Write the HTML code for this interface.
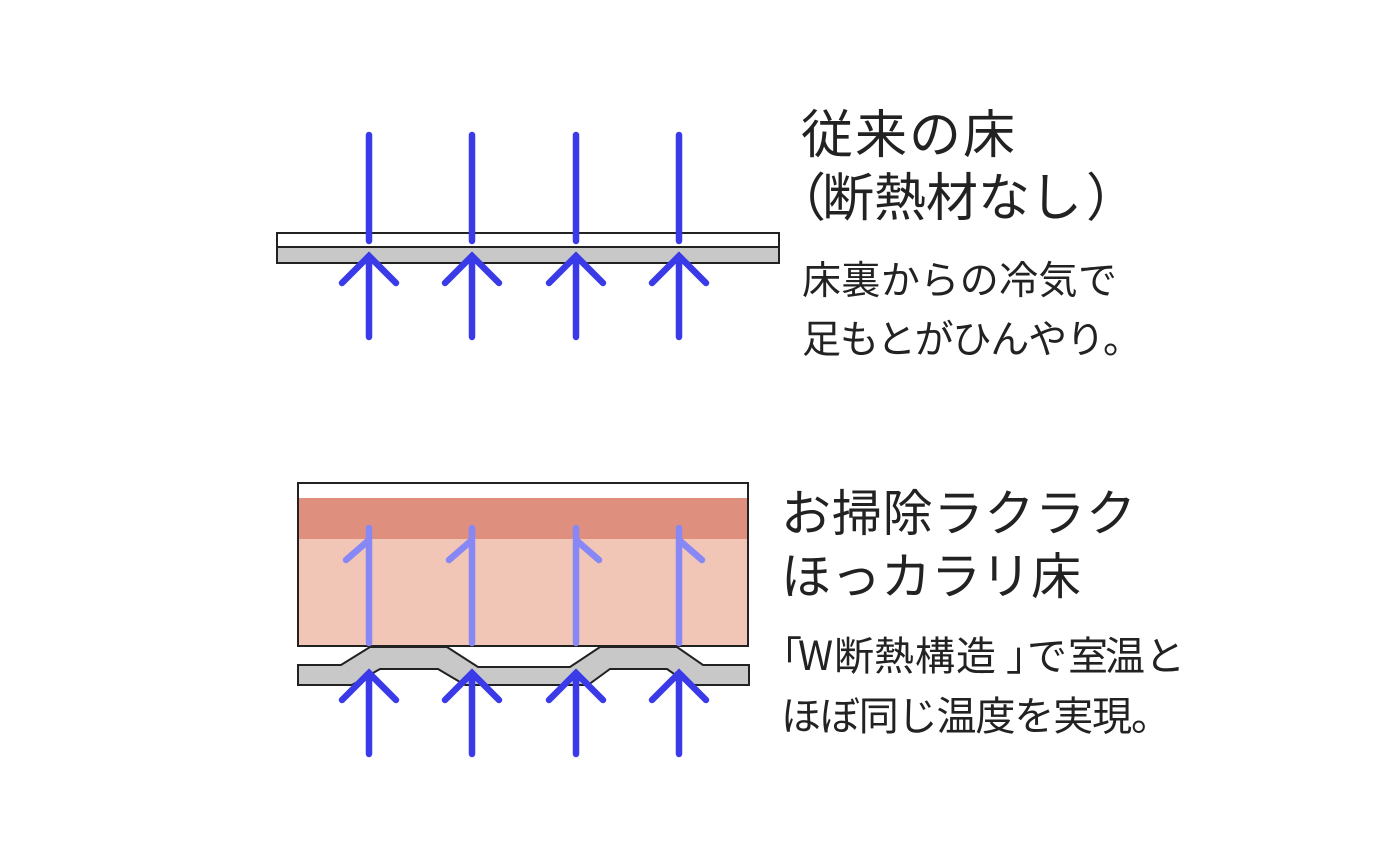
<!DOCTYPE html>
<html><head><meta charset="utf-8"><style>
html,body{margin:0;padding:0;background:#fff;width:1400px;height:865px;overflow:hidden}
text{font-family:"Noto Sans CJK JP","Liberation Sans",sans-serif;fill:#222}
</style></head><body>
<svg width="1400" height="865" viewBox="0 0 1400 865" xmlns="http://www.w3.org/2000/svg">
<rect x="277" y="233" width="502" height="14" fill="#fff" stroke="#222" stroke-width="2"/>
<rect x="277" y="247" width="502" height="16" fill="#c8c8c8" stroke="#222" stroke-width="2"/>
<g stroke="#3a3ae8" stroke-width="6.5" stroke-linecap="round" fill="none">
<line x1="369" y1="135" x2="369" y2="241"/><line x1="472" y1="135" x2="472" y2="241"/><line x1="576" y1="135" x2="576" y2="241"/><line x1="679" y1="135" x2="679" y2="241"/>
<path d="M369 337V256M342 283L369 256L396 283"/>
<path d="M472 337V256M445 283L472 256L499 283"/>
<path d="M576 337V256M549 283L576 256L603 283"/>
<path d="M679 337V256M652 283L679 256L706 283"/>
</g>
<rect x="298" y="483" width="450" height="163" fill="#f2c6b6"/>
<rect x="298" y="483" width="450" height="15" fill="#fff"/>
<rect x="298" y="498" width="450" height="41" fill="#df8f7e"/>
<rect x="298" y="483" width="450" height="163" fill="none" stroke="#222" stroke-width="2"/>
<g stroke="#8787f5" stroke-width="6.5" stroke-linecap="round" fill="none">
<path d="M369 643V528M369 540L346 560"/>
<path d="M472 643V528M472 540L449 560"/>
<path d="M576 643V528M576 540L599 560"/>
<path d="M679 643V528M679 540L702 560"/>
</g>
<path d="M298 665L341 665L370 647L447 647L478 667L570 667L600 647L677 647L703 665L749 665L749 685L690 685L667 669L610 669L588 685L465 685L438 669L380 669L352 685L298 685Z" fill="#c8c8c8" stroke="#222" stroke-width="2"/>
<g stroke="#3a3ae8" stroke-width="6.5" stroke-linecap="round" fill="none">
<path d="M369 754V673M342 700L369 673L396 700"/>
<path d="M472 754V673M445 700L472 673L499 700"/>
<path d="M576 754V673M549 700L576 673L603 700"/>
<path d="M679 754V673M652 700L679 673L706 700"/>
</g>
<text x="801" y="153" font-size="52" textLength="214">従来の床</text>
<text x="774 822 874 926 978 1030 1086" y="216" font-size="52">（断熱材なし）</text>
<text x="802" y="294" font-size="39" textLength="315">床裏からの冷気で</text>
<text x="802" y="353" font-size="39" textLength="340">足もとがひんやり。</text>
<text x="781" y="531" font-size="50" textLength="355">お掃除ラクラク</text>
<text x="781" y="594" font-size="50" textLength="300">ほっカラリ床</text>
<text x="762 798 834 874 915 956 1006 1027 1068 1105 1145" y="670" font-size="40">「W断熱構造」で室温と</text>
<text x="781" y="730" font-size="40" textLength="390">ほぼ同じ温度を実現。</text>
</svg>
</body></html>
